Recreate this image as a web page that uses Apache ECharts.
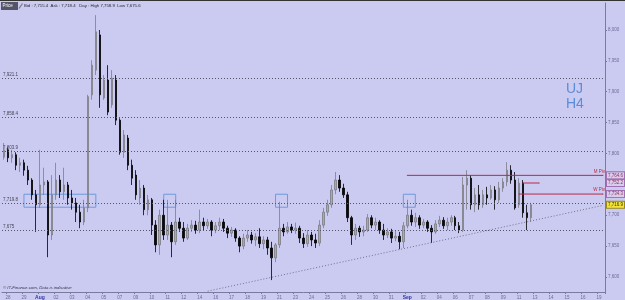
<!DOCTYPE html>
<html><head><meta charset="utf-8">
<script src="https://cdn.jsdelivr.net/npm/echarts@6/dist/echarts.min.js"></script>
<style>html,body{margin:0;padding:0;background:#cbcbf2}#c{width:625px;height:300px}</style>
</head><body><div id="c"></div>
<script>
// x-axis day labels (one every 4 H4 slots)
const dayLabels = ['28','29','Aug','02','03','04','05','07','09','10','11','12','14','16','17','18','19','21','23','24','25','26','28','30','31','Sep','02','04','06','07','08','09','11','13','14','15','16','19'];
const monthNames = ['Aug','Sep'];
const slotCount = 151;
const categories = Array.from({length: slotCount}, (_, i) => 'b' + i);

// OHLC candles: [open, close, low, high]
const candles = [
[7794,7806,7790,7817],[7806,7793,7786,7810],[7793,7798,7785,7806],[7798,7781,7773,7802],
[7781,7785,7770,7793],[7785,7773,7764,7790],[7773,7757,7749,7780],[7757,7733,7725,7760],
[7733,7717,7673,7741],[7717,7749,7712,7806],[7749,7754,7733,7777],[7754,7668,7632,7757],
[7668,7733,7660,7765],[7733,7757,7725,7785],[7757,7738,7728,7765],[7738,7749,7725,7777],
[7749,7728,7717,7754],[7728,7720,7709,7741],[7720,7705,7689,7728],[7705,7689,7679,7717],
[7689,7712,7684,7725],[7712,7892,7705,7895],[7895,7943,7887,7951],[7935,7997,7927,8024],
[7992,7895,7874,8000],[7890,7919,7887,7927],[7919,7867,7862,7943],[7879,7922,7874,7935],
[7919,7854,7846,7927],[7854,7802,7798,7857],[7802,7830,7793,7838],[7825,7781,7773,7830],
[7781,7760,7749,7790],[7765,7733,7725,7773],[7728,7744,7717,7757],[7744,7709,7700,7749],
[7709,7725,7700,7733],[7725,7684,7668,7728],[7684,7652,7640,7692],[7652,7700,7636,7709],
[7700,7668,7660,7725],[7668,7684,7660,7725],[7684,7657,7632,7689],[7657,7689,7652,7725],
[7689,7679,7673,7696],[7679,7663,7657,7689],[7663,7679,7660,7686],[7679,7684,7673,7692],
[7684,7676,7670,7691],[7676,7689,7671,7709],[7689,7683,7676,7696],[7683,7689,7678,7694],
[7689,7676,7666,7692],[7676,7683,7671,7689],[7683,7689,7676,7696],[7689,7679,7673,7694],
[7679,7671,7663,7683],[7671,7676,7665,7681],[7676,7663,7657,7679],[7663,7650,7640,7666],
[7650,7663,7645,7670],[7663,7668,7657,7676],[7668,7660,7654,7673],[7660,7665,7650,7671],
[7665,7654,7647,7679],[7654,7660,7645,7666],[7660,7647,7636,7665],[7647,7631,7595,7657],
[7631,7652,7624,7655],[7652,7679,7647,7722],[7679,7673,7666,7686],[7673,7681,7670,7689],
[7681,7676,7671,7686],[7676,7679,7670,7688],[7679,7663,7655,7683],[7663,7654,7647,7671],
[7654,7668,7649,7676],[7668,7660,7650,7673],[7660,7655,7647,7670],[7655,7684,7650,7692],
[7684,7705,7679,7712],[7705,7717,7699,7725],[7717,7741,7712,7749],[7741,7757,7734,7770],
[7757,7744,7738,7765],[7744,7733,7728,7751],[7733,7696,7689,7738],[7696,7668,7652,7699],
[7668,7679,7660,7686],[7679,7673,7665,7683],[7673,7676,7666,7683],[7676,7696,7673,7702],
[7696,7684,7679,7700],[7684,7689,7676,7696],[7689,7676,7670,7692],[7676,7668,7660,7686],
[7668,7673,7663,7679],[7673,7663,7655,7678],[7663,7666,7658,7676],[7666,7657,7645,7673],
[7657,7683,7647,7689],[7683,7700,7679,7725],[7700,7689,7683,7709],[7689,7696,7681,7704],
[7696,7684,7678,7700],[7684,7689,7679,7694],[7689,7679,7673,7692],[7679,7673,7655,7684],
[7673,7686,7670,7692],[7686,7692,7681,7699],[7692,7683,7678,7697],[7683,7689,7676,7696],
[7689,7696,7683,7700],[7696,7683,7676,7699],[7683,7676,7671,7689],[7676,7749,7673,7762],
[7749,7760,7709,7773],[7760,7717,7709,7765],[7717,7733,7705,7744],[7733,7717,7709,7749],
[7717,7733,7712,7741],[7733,7728,7717,7746],[7728,7741,7725,7749],[7741,7725,7709,7747],
[7725,7744,7720,7754],[7744,7754,7738,7760],[7754,7773,7747,7786],[7773,7757,7751,7781],
[7757,7712,7709,7770],[7717,7752,7712,7760],[7752,7704,7696,7757],[7704,7696,7676,7717],
[7696,7717,7689,7720]
];

// right axis tick labels
const yTicks = [7600,7650,7700,7750,7800,7850,7900,7950,8000];
// dotted horizontal levels with their labels
const levels = [7921.1, 7858.4, 7803.9, 7719.8, 7675];
const levelText = ['7,921.1','7,858.4','7,803.9','7,719.8','7,675'];
// pivot lines
const mPiv = 7764.6, midLevel = 7752.2, wPiv = 7734.3, lastPrice = 7716.9;
const mPivSpan = [101, 150], midSpan = [130, 134], wPivSpan = [129, 150];
// blue boxes: [startSlot, endSlot]
const boxSlots = [[5,23],[40,43],[68,71],[100,103]];
const boxRange = [7713, 7734];
// dotted trend line points [slot, value]
const trendLine = [[51, 7577], [150, 7716]];

const fmt = v => String(v).replace(/\B(?=(\d{3})+(?!\d))/g, ',');
const FONT = 'Liberation Sans, Arial, sans-serif';
const isLab = i => (i - 1) % 4 === 0 && i >= 1;
const RED = '#b82848';

const chart = echarts.init(document.getElementById('c'));

const levelLines = levels.map((v, k) => ({
  yAxis: v,
  lineStyle: {type: [1, 2], color: '#55556a', width: 1},
  label: {show: true, position: 'insideStartTop', formatter: levelText[k], fontSize: 4.5, color: '#444455', distance: 1, fontFamily: FONT}
}));
const tagLabel = (v, bg, bc, tc) => ({
  yAxis: v,
  lineStyle: {color: 'rgba(0,0,0,0)', width: 0},
  label: {show: true, position: 'end', formatter: fmt(v.toFixed(1)), fontSize: 4.5, color: tc, backgroundColor: bg,
    borderColor: bc, borderWidth: 1, padding: [1, 1, 0, 1], distance: 2, fontFamily: FONT}
});
const pivotSeries = (span, v, txt) => ({
  type: 'line', silent: true, symbol: 'circle', symbolSize: 1, showSymbol: true, z: 4,
  itemStyle: {color: RED},
  lineStyle: {color: RED, width: 1, type: 'solid'},
  data: [
    {value: [span[0], v], label: {show: false}},
    {value: [span[1], v], label: {show: !!txt, position: 'top', align: 'right', distance: 1,
      offset: [2, 0], formatter: txt || '', fontSize: 4.5, color: RED, fontFamily: FONT}}
  ]
});

chart.setOption({
  animation: false,
  backgroundColor: '#cbcbf2',
  grid: {left: 2, right: 20, top: 3, bottom: 8},
  xAxis: {
    type: 'category', data: categories, boundaryGap: true,
    axisLine: {lineStyle: {color: '#7a7aa0'}},
    axisTick: {show: true, interval: i => isLab(i), length: 2, lineStyle: {color: '#7a7aa0'}},
    axisLabel: {
      interval: i => isLab(i), margin: 3, fontSize: 4.5, color: '#6a6a98', fontFamily: FONT,
      formatter: (v, i) => {
        const t = isLab(i) ? dayLabels[(i - 1) / 4] : '';
        return monthNames.includes(t) ? '{m|' + t + '}' : t;
      },
      rich: {m: {fontSize: 5, color: '#3535a0', fontWeight: 'bold', fontFamily: FONT}}
    },
    splitLine: {show: false}
  },
  yAxis: {
    type: 'value', position: 'right', min: 7575.7, max: 8043.7, scale: true,
    splitLine: {show: false},
    axisLine: {show: true, lineStyle: {color: '#7a7aa0'}},
    axisTick: {show: true, length: 2, customValues: yTicks, lineStyle: {color: '#7a7aa0'}},
    axisLabel: {customValues: yTicks, formatter: v => fmt(v), fontSize: 4.5, color: '#6a6a98', margin: 3, fontFamily: FONT}
  },
  series: [
    {
      type: 'candlestick', data: candles, barWidth: 2,
      itemStyle: {color: '#a8a8ae', color0: '#0a0a0a', borderColor: '#7c7c84', borderColor0: '#000', borderWidth: 0.8},
      markLine: {
        silent: true, symbol: ['none', 'none'],
        data: [
          ...levelLines,
          tagLabel(mPiv, '#d8cdef', '#a070b0', '#903050'),
          tagLabel(midLevel, '#d8cdef', '#a070b0', '#903050'),
          tagLabel(wPiv, '#d8cdef', '#a070b0', '#903050'),
          tagLabel(lastPrice, '#f2e23a', '#9a8a10', '#333300')
        ]
      },
      markArea: {
        silent: true,
        itemStyle: {color: 'rgba(0,0,0,0)', borderColor: '#6c9ade', borderWidth: 1},
        data: boxSlots.map(b => [{xAxis: b[0], yAxis: boxRange[1]}, {xAxis: b[1], yAxis: boxRange[0]}])
      }
    },
    pivotSeries(mPivSpan, mPiv, 'M Piv'),
    pivotSeries(midSpan, midLevel, ''),
    pivotSeries(wPivSpan, wPiv, 'W Piv'),
    {
      type: 'line', data: trendLine, symbol: 'none', silent: true,
      lineStyle: {type: [1, 2], color: '#707088', width: 1}
    }
  ],
  graphic: [
    {type: 'rect', shape: {x: 0, y: 0, width: 625, height: 1}, style: {fill: '#333'}},
    {type: 'rect', shape: {x: 1, y: 2, width: 17, height: 8}, style: {fill: '#55556a'}},
    {type: 'text', x: 2.5, y: 6, style: {text: 'Price', fill: '#fff', fontSize: 4.5, fontFamily: FONT, verticalAlign: 'middle'}},
    {type: 'line', shape: {x1: 19, y1: 8.5, x2: 22.5, y2: 3.5}, style: {stroke: '#777', lineWidth: 1.2}},
    {type: 'text', x: 24, y: 6, style: {text: 'Bid : 7,715.4  Ask : 7,718.4   Day : High 7,758.9  Low 7,675.6', fill: '#222233', fontSize: 4.3, fontFamily: FONT, verticalAlign: 'middle'}},
    {type: 'text', x: 566, y: 82, style: {text: 'UJ\nH4', fill: '#5a8cd8', fontSize: 14, lineHeight: 15, fontFamily: FONT}},
    {type: 'text', x: 3, y: 290, style: {text: '© IT-Finance.com, Data is indicative', fill: '#333344', fontSize: 4.3, fontStyle: 'italic', fontFamily: FONT, verticalAlign: 'bottom'}}
  ]
});
</script></body></html>
